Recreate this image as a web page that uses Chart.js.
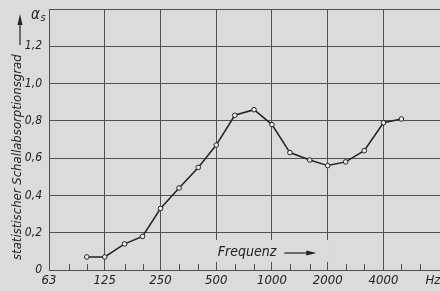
<!DOCTYPE html>
<html><head><meta charset="utf-8">
<script src="https://cdn.jsdelivr.net/npm/chart.js@4/dist/chart.umd.min.js"></script>
<style>html,body{margin:0;padding:0;background:#dbdbdb;overflow:hidden}#wrap{width:440px;height:291px;position:relative}</style>
</head><body><div id="wrap"><canvas id="c"></canvas></div>
<script>
const frequencies = [100,125,160,200,250,315,400,500,630,800,1000,1250,1600,2000,2500,3150,4000,5000];
const absorption = [0.07,0.07,0.14,0.18,0.33,0.44,0.55,0.67,0.83,0.86,0.78,0.63,0.59,0.56,0.58,0.64,0.79,0.81];
const octaveTicks = [62.5,125,250,500,1000,2000,4000];
const octaveLabels = ['63','125','250','500','1000','2000','4000'];
const unitLabel = 'Hz';
const minorTicks = [80,100,160,200,315,400,630,800,1250,1600,2500,3150,5000,6300];
const yTitle = 'statistischer Schallabsorptionsgrad';
const xTitle = 'Frequenz';
const symbolMain = 'α';
const symbolSub = 's';

const FONT = '"Liberation Sans Narrow","DejaVu Sans Condensed","Liberation Sans",sans-serif';
const INK = '#222222';
const GRID = '#505050';
const BG = '#dbdbdb';
const hzPos = 7400;
const xTitleAt = 510;

const deco = {
  id: 'deco',
  beforeDatasetsDraw(chart) {
    const {ctx, chartArea} = chart;
    const xs = chart.scales.x;
    ctx.save();
    ctx.font = 'italic 14px ' + FONT;
    const tx = xs.getPixelForValue(xTitleAt);
    const tw = ctx.measureText(xTitle).width;
    ctx.fillStyle = BG;
    ctx.fillRect(tx - 4, chartArea.bottom - 30, tw + 56, 22);
    ctx.restore();
  },
  afterDraw(chart) {
    const {ctx, chartArea} = chart;
    const xs = chart.scales.x;
    ctx.save();
    // minor ticks
    ctx.strokeStyle = GRID; ctx.lineWidth = 1;
    minorTicks.forEach(f => {
      const x = Math.round(xs.getPixelForValue(f)) + 0.5;
      ctx.beginPath(); ctx.moveTo(x, chartArea.bottom - 6); ctx.lineTo(x, chartArea.bottom); ctx.stroke();
    });
    // x title
    ctx.fillStyle = INK; ctx.strokeStyle = INK;
    ctx.font = 'italic 14px ' + FONT;
    ctx.textBaseline = 'middle'; ctx.textAlign = 'left';
    const tx = xs.getPixelForValue(xTitleAt);
    const ty = chartArea.bottom - 18;
    ctx.fillText(xTitle, tx, ty);
    const tw = ctx.measureText(xTitle).width;
    const a0 = tx + tw + 8, a1 = tx + tw + 40;
    ctx.lineWidth = 1.2;
    ctx.beginPath(); ctx.moveTo(a0, ty + 1); ctx.lineTo(a1 - 6, ty + 1); ctx.stroke();
    ctx.beginPath(); ctx.moveTo(a1, ty + 1); ctx.lineTo(a1 - 10, ty - 1.5); ctx.lineTo(a1 - 10, ty + 3.5); ctx.closePath(); ctx.fill();
    // y title rotated
    ctx.save();
    ctx.translate(18, 260);
    ctx.rotate(-Math.PI / 2);
    ctx.font = 'italic 13px ' + FONT;
    ctx.textAlign = 'left'; ctx.textBaseline = 'middle';
    ctx.fillText(yTitle, 0, 0);
    ctx.restore();
    // y arrow
    ctx.lineWidth = 1.2;
    ctx.beginPath(); ctx.moveTo(20, 45); ctx.lineTo(20, 22); ctx.stroke();
    ctx.beginPath(); ctx.moveTo(20, 14); ctx.lineTo(17.5, 25); ctx.lineTo(22.5, 25); ctx.closePath(); ctx.fill();
    // symbol
    ctx.font = 'italic 15px ' + FONT;
    ctx.textAlign = 'left'; ctx.textBaseline = 'alphabetic';
    ctx.fillText(symbolMain, 31, 19);
    const sw = ctx.measureText(symbolMain).width;
    ctx.font = 'italic 11px ' + FONT;
    ctx.fillText(symbolSub, 31 + sw + 0.5, 21);
    ctx.restore();
  }
};

new Chart(document.getElementById('c'), {
  type: 'line',
  data: {
    datasets: [{
      data: frequencies.map((f, i) => ({x: f, y: absorption[i]})),
      borderColor: INK,
      borderWidth: 1.5,
      pointRadius: 2.3,
      pointBackgroundColor: '#ececec',
      pointBorderColor: INK,
      pointBorderWidth: 1,
      tension: 0,
      fill: false
    }]
  },
  options: {
    responsive: true,
    maintainAspectRatio: false,
    animation: false,
    events: [],
    layout: {autoPadding: false, padding: {top: 9, right: 0, left: 0, bottom: 0}},
    plugins: {legend: {display: false}, tooltip: {enabled: false}},
    scales: {
      x: {
        type: 'logarithmic',
        min: 62.5,
        max: 8080,
        afterBuildTicks(scale) {
          scale.ticks = octaveTicks.concat([hzPos]).map(v => ({value: v}));
        },
        afterFit(scale) { scale.height = 21; scale.paddingRight = 0; scale.paddingLeft = 0; },
        grid: {
          color: ctx => (ctx.index < octaveTicks.length ? GRID : 'rgba(0,0,0,0)'),
          lineWidth: 1,
          drawTicks: false
        },
        border: {display: true, color: GRID, width: 1},
        ticks: {
          autoSkip: false,
          maxRotation: 0,
          padding: 3,
          color: INK,
          font: {family: FONT, size: 13, style: 'italic'},
          callback: (v, i) => (i < octaveLabels.length ? octaveLabels[i] : unitLabel)
        }
      },
      y: {
        min: 0,
        max: 1.4,
        afterFit(scale) { scale.width = 49; scale.paddingTop = 0; scale.paddingBottom = 0; },
        grid: {color: GRID, lineWidth: 1, drawTicks: false},
        border: {display: true, color: GRID, width: 1},
        ticks: {
          stepSize: 0.2,
          padding: 7,
          color: INK,
          font: {family: FONT, size: 12, style: 'italic'},
          callback: v => {
            const r = Math.round(v * 10) / 10;
            if (r >= 1.4) return '';
            return r === 0 ? '0' : r.toFixed(1).replace('.', ',');
          }
        }
      }
    }
  },
  plugins: [deco]
});
</script>
</body></html>
